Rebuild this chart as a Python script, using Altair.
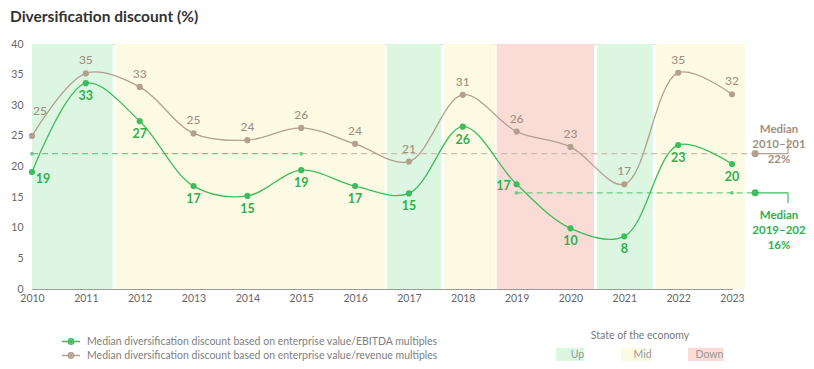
import altair as alt
import pandas as pd

# ---------------- data ----------------
years = list(range(2010, 2024))
ebitda_values = [19.1, 33.6, 27.4, 16.8, 15.2, 19.4, 16.8, 15.6, 26.5, 17.1, 9.9, 8.6, 23.5, 20.4]
revenue_values = [25.0, 35.2, 33.0, 25.4, 24.3, 26.3, 23.7, 20.8, 31.7, 25.7, 23.2, 17.1, 35.3, 31.8]
ebitda_labels = ["19", "33", "27", "17", "15", "19", "17", "15", "26", "17", "10", "8", "23", "20"]
revenue_labels = ["25", "35", "33", "25", "24", "26", "24", "21", "31", "26", "23", "17", "35", "32"]

series_names = [
    "Median diversification discount based on enterprise value/EBITDA multiples",
    "Median diversification discount based on enterprise value/revenue multiples",
]

states = ["Up", "Mid", "Down"]
band_states = ["Up", "Mid", "Up", "Mid", "Down", "Up", "Mid"]
band_starts = [2010, 2011.56, 2016.59, 2017.65, 2018.63, 2020.49, 2021.59]
band_ends = [2011.50, 2016.55, 2017.60, 2018.60, 2020.44, 2021.53, 2023.24]

median_values = [22.1, 15.7]
median_labels = ["Median\n2010–201\n22%", "Median\n2019–202\n16%"]

# ---------------- styles ----------------
FONT = "Lato"
GREEN = "#3dbd5d"
GREEN_TXT = "#2fb04f"
BROWN = "#b3a08f"
BROWN_TXT = "#a38f7f"
GREEN_DASH = "#6acd84"
BROWN_DASH = "#cdbdb1"
BAND_COLORS = ["#dcf6e1", "#fdfae4", "#fadcd7"]

X_SCALE = alt.Scale(domain=[2010, 2023], nice=False, zero=False)
Y_SCALE = alt.Scale(domain=[0, 40], nice=False, zero=False)
X_AXIS = alt.Axis(values=years, format="d", title=None, ticks=False, grid=False,
                  domainColor="#9a9a9a", labelColor="#666666", labelFontSize=10.5,
                  labelPadding=4, labelFont=FONT, labelFlush=False)
Y_AXIS = alt.Axis(values=list(range(0, 41, 5)), title=None, ticks=False, grid=False,
                  domainColor="#9a9a9a", labelColor="#666666", labelFontSize=10.5,
                  labelPadding=9, labelFont=FONT)


def X(field):
    return alt.X(field, type="quantitative", scale=X_SCALE, axis=X_AXIS)


def Y(field):
    return alt.Y(field, type="quantitative", scale=Y_SCALE, axis=Y_AXIS)


# ---------------- tables ----------------
bands_df = pd.DataFrame({"state": band_states, "start": band_starts, "end": band_ends})
lines_df = pd.DataFrame({
    "year": years * 2,
    "value": ebitda_values + revenue_values,
    "series": [series_names[0]] * len(years) + [series_names[1]] * len(years),
})
ebitda_df = pd.DataFrame({"year": years, "value": ebitda_values, "label": ebitda_labels})
revenue_df = pd.DataFrame({"year": years, "value": revenue_values, "label": revenue_labels})

END_X = 2023.43   # end of dashed median lines (beyond last year)
CONN_X = 2024.04  # x of the label connector

green_dash_df = pd.DataFrame({"x": [2010, 2019], "x2": [2015, END_X],
                              "y": [median_values[0], median_values[1]]})
brown_dash_df = pd.DataFrame({"x": [2015], "x2": [END_X], "y": [median_values[0]]})
green_small_df = pd.DataFrame({"x": [2010, 2015, 2019, 2023],
                               "y": [median_values[0], median_values[0], median_values[1], median_values[1]]})
brown_conn_df = pd.DataFrame({"x": [END_X, CONN_X], "x2": [CONN_X, CONN_X],
                              "y": [median_values[0], median_values[0]], "y2": [median_values[0], 24.65]})
green_conn_df = pd.DataFrame({"x": [END_X, CONN_X], "x2": [CONN_X, CONN_X],
                              "y": [median_values[1], median_values[1]], "y2": [median_values[1], 14.04]})
brown_end_df = pd.DataFrame({"x": [END_X], "y": [median_values[0]]})
green_end_df = pd.DataFrame({"x": [END_X], "y": [median_values[1]]})
brown_lab_df = pd.DataFrame({"x": [CONN_X], "y": [24.65], "label": [median_labels[0]]})
green_lab_df = pd.DataFrame({"x": [CONN_X], "y": [14.04], "label": [median_labels[1]]})

# ---------------- layers ----------------
bands = alt.Chart(bands_df).mark_rect().encode(
    x=X("start"), x2=alt.X2("end"),
    y=alt.Y(datum=0, type="quantitative", scale=Y_SCALE, axis=Y_AXIS), y2=alt.Y2(datum=40),
    fill=alt.Fill("state:N", scale=alt.Scale(domain=states, range=BAND_COLORS),
                  legend=alt.Legend(
                      title="State of the economy", orient="none", legendX=524, legendY=287,
                      direction="horizontal", symbolType="M-1,-0.3256H1V0.3256H-1Z",
                      symbolSize=1849, symbolStrokeWidth=0, labelAlign="center",
                      labelOffset={"expr": "-21.5"}, columnPadding=36, titleAnchor="middle",
                      clipHeight=14,
                      titleFontSize=10.5, titleFontWeight="normal", titleColor="#777777",
                      titleFont=FONT, labelFont=FONT, labelColor="#999999", labelFontSize=10.5,
                      titlePadding=6)),
)

green_dash = alt.Chart(green_dash_df).mark_rule(color=GREEN_DASH, strokeDash=[6, 4], strokeWidth=1.2).encode(
    x=X("x"), x2=alt.X2("x2"), y=Y("y"))
brown_dash = alt.Chart(brown_dash_df).mark_rule(color=BROWN_DASH, strokeDash=[6, 4], strokeWidth=1.2).encode(
    x=X("x"), x2=alt.X2("x2"), y=Y("y"))
green_small = alt.Chart(green_small_df).mark_circle(color=GREEN_DASH, size=14, opacity=1).encode(
    x=X("x"), y=Y("y"))

LEGEND_PATH = ("M-1,0H1M0.3,0A0.3,0.3,0,1,1,-0.3,0A0.3,0.3,0,1,1,0.3,0"
               "M0.1,0A0.1,0.1,0,1,1,-0.1,0A0.1,0.1,0,1,1,0.1,0")
lines = alt.Chart(lines_df).mark_line(interpolate="catmull-rom", strokeWidth=1.3).encode(
    x=X("year"), y=Y("value"),
    stroke=alt.Stroke("series:N", scale=alt.Scale(domain=series_names, range=[GREEN, BROWN]),
                      legend=alt.Legend(
                          title=None, orient="none", legendX=29, legendY=292, direction="vertical",
                          symbolType=LEGEND_PATH, symbolSize=324, symbolStrokeWidth=1.5,
                          clipHeight=11,
                          labelFontSize=10.5, labelFont=FONT, labelColor="#808080", labelOffset=6,
                          rowPadding=3, labelLimit=600)),
)

green_pts = alt.Chart(ebitda_df).mark_circle(color=GREEN, size=38, opacity=1).encode(x=X("year"), y=Y("value"))
brown_pts = alt.Chart(revenue_df).mark_circle(color=BROWN, size=38, opacity=1).encode(x=X("year"), y=Y("value"))

txt_g = dict(color=GREEN_TXT, fontSize=12.5, fontWeight="bold", font=FONT)
txt_b = dict(color=BROWN_TXT, fontSize=12, fontWeight=500, font=FONT)

green_txt = alt.Chart(ebitda_df).transform_filter("datum.year != 2010 && datum.year != 2019").mark_text(
    dy=13, **txt_g).encode(x=X("year"), y=Y("value"), text="label:N")
green_txt_2010 = alt.Chart(ebitda_df).transform_filter("datum.year == 2010").mark_text(
    dx=11, dy=7, **txt_g).encode(x=X("year"), y=Y("value"), text="label:N")
green_txt_2019 = alt.Chart(ebitda_df).transform_filter("datum.year == 2019").mark_text(
    dx=-13, dy=2, **txt_g).encode(x=X("year"), y=Y("value"), text="label:N")
brown_txt = alt.Chart(revenue_df).transform_filter("datum.year != 2010").mark_text(
    dy=-13, **txt_b).encode(x=X("year"), y=Y("value"), text="label:N")
brown_txt_2010 = alt.Chart(revenue_df).transform_filter("datum.year == 2010").mark_text(
    dx=8, dy=-25, **txt_b).encode(x=X("year"), y=Y("value"), text="label:N")

brown_conn = alt.Chart(brown_conn_df).mark_rule(color=BROWN, strokeWidth=1.2).encode(
    x=X("x"), x2=alt.X2("x2"), y=Y("y"), y2=alt.Y2("y2"))
green_conn = alt.Chart(green_conn_df).mark_rule(color=GREEN, strokeWidth=1.2).encode(
    x=X("x"), x2=alt.X2("x2"), y=Y("y"), y2=alt.Y2("y2"))
brown_end = alt.Chart(brown_end_df).mark_circle(color=BROWN, size=50, opacity=1).encode(x=X("x"), y=Y("y"))
green_end = alt.Chart(green_end_df).mark_circle(color=GREEN, size=50, opacity=1).encode(x=X("x"), y=Y("y"))
brown_lab = alt.Chart(brown_lab_df).mark_text(
    color=BROWN_TXT, fontSize=11.5, fontWeight="bold", font=FONT, lineBreak="\n", lineHeight=15,
    align="center", baseline="bottom", dx=-9, dy=-3).encode(x=X("x"), y=Y("y"), text="label:N")
green_lab = alt.Chart(green_lab_df).mark_text(
    color=GREEN_TXT, fontSize=11.5, fontWeight="bold", font=FONT, lineBreak="\n", lineHeight=15,
    align="center", baseline="top", dx=-9, dy=7).encode(x=X("x"), y=Y("y"), text="label:N")

chart = alt.layer(
    bands, green_dash, brown_dash, green_small, lines, green_pts, brown_pts,
    green_txt, green_txt_2010, green_txt_2019, brown_txt, brown_txt_2010,
    brown_conn, green_conn, brown_end, green_end, brown_lab, green_lab,
).properties(
    width=700, height=245,
    autosize=alt.AutoSizeParams(type="none"),
    padding={"left": 24, "top": 36, "right": 74, "bottom": 72},
    title=alt.TitleParams("Diversification discount (%)", anchor="start", frame="group", dx=-22,
                          offset=14, fontSize=15.5, font=FONT, fontWeight="bold", color="#333333"),
).configure_view(stroke=None).configure(background="white")

chart.save("out.html", embed_options={"renderer": "svg", "actions": False})
